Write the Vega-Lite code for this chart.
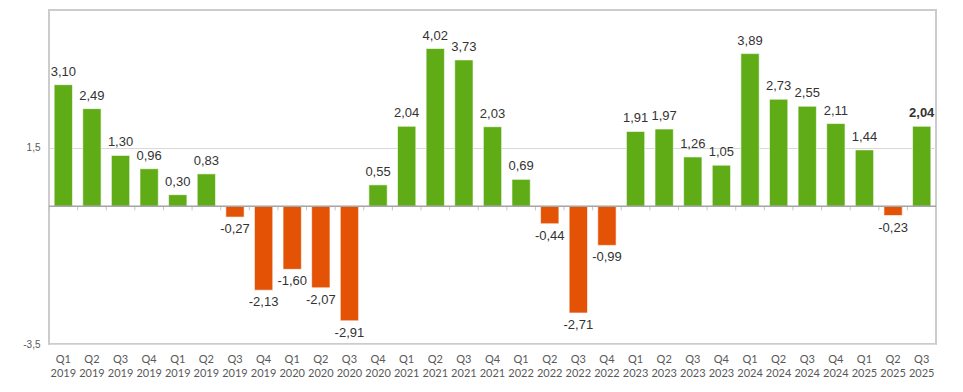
{
  "$schema": "https://vega.github.io/schema/vega-lite/v6.json",
  "autosize": {"type": "none"},
  "padding": {"left": 49, "top": 10, "right": 27, "bottom": 48},
  "width": 887,
  "height": 334,
  "background": "white",
  "config": {
    "locale": {"number": {"decimal": ",", "thousands": ".", "grouping": [3], "currency": ["", " €"], "minus": "-"}},
    "view": {"stroke": "#cccccc", "strokeWidth": 2},
    "font": "Liberation Sans"
  },
  "data": {
    "values": [
      {"k": "01|Q1 2019", "v": 3.10},
      {"k": "02|Q2 2019", "v": 2.49},
      {"k": "03|Q3 2019", "v": 1.30},
      {"k": "04|Q4 2019", "v": 0.96},
      {"k": "05|Q1 2019", "v": 0.30},
      {"k": "06|Q2 2019", "v": 0.83},
      {"k": "07|Q3 2019", "v": -0.27},
      {"k": "08|Q4 2019", "v": -2.13},
      {"k": "09|Q1 2020", "v": -1.60},
      {"k": "10|Q2 2020", "v": -2.07},
      {"k": "11|Q3 2020", "v": -2.91},
      {"k": "12|Q4 2020", "v": 0.55},
      {"k": "13|Q1 2021", "v": 2.04},
      {"k": "14|Q2 2021", "v": 4.02},
      {"k": "15|Q3 2021", "v": 3.73},
      {"k": "16|Q4 2021", "v": 2.03},
      {"k": "17|Q1 2022", "v": 0.69},
      {"k": "18|Q2 2022", "v": -0.44},
      {"k": "19|Q3 2022", "v": -2.71},
      {"k": "20|Q4 2022", "v": -0.99},
      {"k": "21|Q1 2023", "v": 1.91},
      {"k": "22|Q2 2023", "v": 1.97},
      {"k": "23|Q3 2023", "v": 1.26},
      {"k": "24|Q4 2023", "v": 1.05},
      {"k": "25|Q1 2024", "v": 3.89},
      {"k": "26|Q2 2024", "v": 2.73},
      {"k": "27|Q3 2024", "v": 2.55},
      {"k": "28|Q4 2024", "v": 2.11},
      {"k": "29|Q1 2025", "v": 1.44},
      {"k": "30|Q2 2025", "v": -0.23},
      {"k": "31|Q3 2025", "v": 2.04}
    ]
  },
  "layer": [
    {
      "mark": {"type": "bar", "stroke": "white", "strokeOpacity": 0.6, "strokeWidth": 1},
      "encoding": {
        "x": {
          "field": "k", "type": "ordinal",
          "scale": {"paddingInner": 0.36, "paddingOuter": 0.18},
          "axis": {
            "title": null, "domain": false, "ticks": false, "labelAngle": 0,
            "labelExpr": "split(split(datum.value, '|')[1], ' ')",
            "labelFont": "Lato", "labelFontSize": 11, "labelColor": "#595959",
            "labelPadding": 9, "labelLineHeight": 14, "labelBaseline": "top"
          }
        },
        "y": {
          "field": "v", "type": "quantitative",
          "scale": {"domain": [-3.5, 5], "nice": false},
          "axis": {
            "title": null, "values": [-3.5, 1.5], "format": ".1f",
            "domain": false, "ticks": false, "grid": true, "gridColor": "#d9d9d9",
            "labelFontSize": 10, "labelColor": "#595959", "labelPadding": 9
          }
        },
        "color": {"condition": {"test": "datum.v < 0", "value": "#E35205"}, "value": "#60AC17"}
      }
    },
    {
      "mark": {"type": "rule", "color": "#c4c4c4", "strokeWidth": 1},
      "encoding": {
        "x": {"field": "k", "type": "ordinal", "bandPosition": -0.28},
        "y": {"datum": 0},
        "y2": {"datum": -0.1}
      }
    },
    {
      "mark": {"type": "rule", "color": "#a6a6a6", "strokeWidth": 1},
      "encoding": {
        "y": {"datum": 0}
      }
    },
    {
      "transform": [{"filter": "datum.v >= 0 && datum.k != '31|Q3 2025'"}],
      "mark": {"type": "text", "baseline": "alphabetic", "dy": -9, "fontSize": 13, "color": "#333333"},
      "encoding": {
        "x": {"field": "k", "type": "ordinal"},
        "y": {"field": "v", "type": "quantitative"},
        "text": {"field": "v", "type": "quantitative", "format": ".2f"}
      }
    },
    {
      "transform": [{"filter": "datum.k == '31|Q3 2025'"}],
      "mark": {"type": "text", "baseline": "alphabetic", "dy": -9, "fontSize": 13, "fontWeight": "bold", "color": "#333333"},
      "encoding": {
        "x": {"field": "k", "type": "ordinal"},
        "y": {"field": "v", "type": "quantitative"},
        "text": {"field": "v", "type": "quantitative", "format": ".2f"}
      }
    },
    {
      "transform": [{"filter": "datum.v < 0"}],
      "mark": {"type": "text", "baseline": "top", "dy": 6, "fontSize": 13, "color": "#333333"},
      "encoding": {
        "x": {"field": "k", "type": "ordinal"},
        "y": {"field": "v", "type": "quantitative"},
        "text": {"field": "v", "type": "quantitative", "format": ".2f"}
      }
    }
  ]
}
